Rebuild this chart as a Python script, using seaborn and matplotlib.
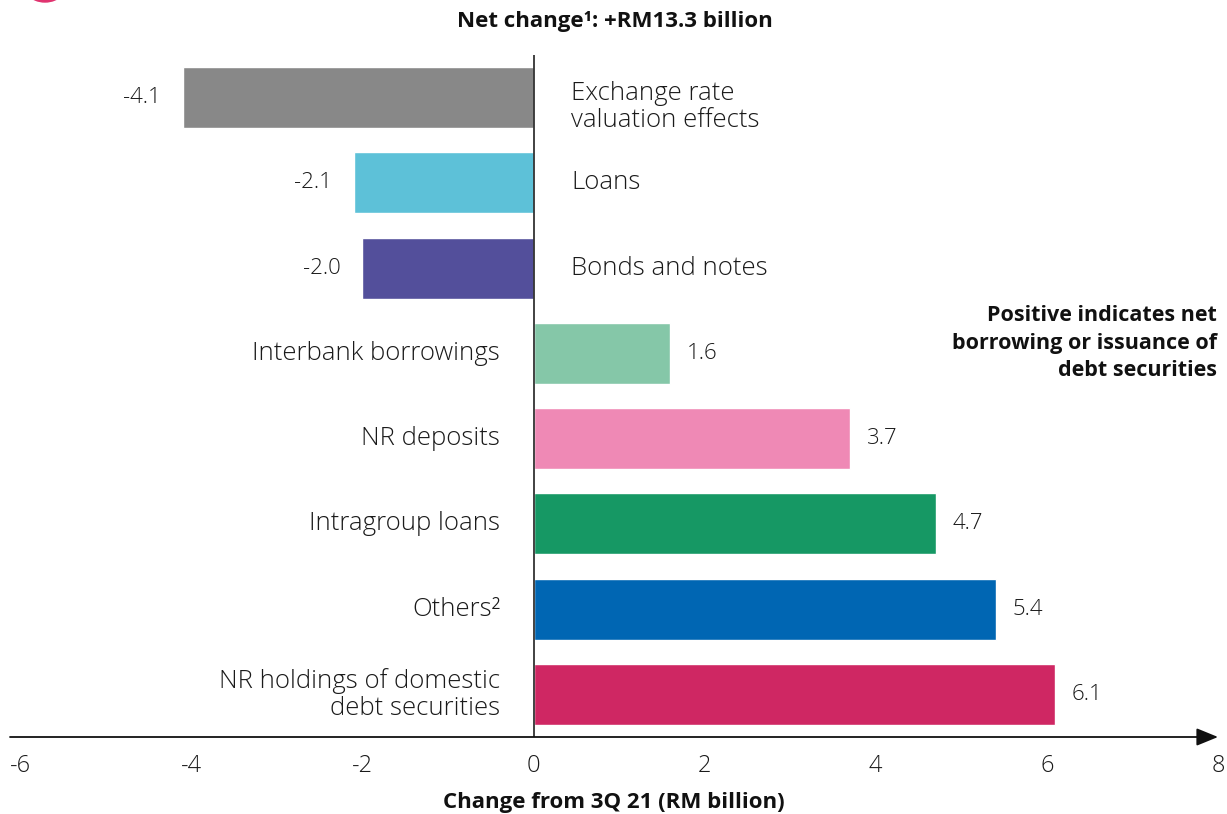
import matplotlib
matplotlib.use("Agg")
import matplotlib.pyplot as plt
from matplotlib.patches import Ellipse
import seaborn as sns
import pandas as pd

categories = [
    "Exchange rate\nvaluation effects",
    "Loans",
    "Bonds and notes",
    "Interbank borrowings",
    "NR deposits",
    "Intragroup loans",
    "Others\u00b2",
    "NR holdings of domestic\ndebt securities",
]
values = [-4.1, -2.1, -2.0, 1.6, 3.7, 4.7, 5.4, 6.1]
colors = ["#888888", "#5DC1D8", "#534F9B", "#85C7A8",
          "#EF89B5", "#169864", "#0066B3", "#CF2763"]
x_ticks = [-6, -4, -2, 0, 2, 4, 6, 8]

title = "Net change\u00b9: +RM13.3 billion"
x_label = "Change from 3Q 21 (RM billion)"
note = "Positive indicates net\nborrowing or issuance of\ndebt securities"

sns.set_theme(style="white")
plt.rcParams["font.family"] = ["Open Sans", "DejaVu Sans"]

df = pd.DataFrame({"category": categories, "value": values})

W, H = 1227, 814
fig = plt.figure(figsize=(W / 100, H / 100), dpi=100)
ax = fig.add_axes([10 / W, (H - 737) / H, 1208 / W, (737 - 55) / H])

sns.barplot(data=df, x="value", y="category", hue="category",
            palette=colors, orient="h", width=0.715, legend=False,
            saturation=1, ax=ax)

ax.set_xlim(-6.12, 8.0)
ax.set_ylim(len(categories) - 0.5, -0.5)
for s in ax.spines.values():
    s.set_visible(False)
ax.set_yticks([])
ax.set_ylabel("")
ax.set_xticks(x_ticks)
ax.set_xticklabels([str(t) for t in x_ticks], fontsize=17,
                   fontweight="light", color="#1a1a1a")
ax.tick_params(axis="x", length=0, pad=12)
ax.set_xlabel(x_label, fontsize=16, fontweight="bold", color="#111111",
              labelpad=10)

TXT = dict(fontweight="light", color="#1a1a1a")

# zero line
ax.axvline(0, color="#333333", lw=1.3, zorder=3)
# x axis with arrow head
ax.annotate("", xy=(1.0, 0), xytext=(0, 0), xycoords="axes fraction",
            arrowprops=dict(arrowstyle="-|>,head_length=1.1,head_width=0.45",
                            color="#111111", lw=1.3, shrinkA=0, shrinkB=0))

for i, (cat, v) in enumerate(zip(categories, values)):
    if v < 0:
        ax.annotate(f"{v:.1f}", (v, i), xytext=(-16, 0),
                    textcoords="offset points", ha="right", va="center",
                    fontsize=16, **TXT)
        # the top label sits a little lower than its bar
        dy = -7 if i == 0 else 0
        ax.annotate(cat, (0, i), xytext=(27, dy), textcoords="offset points",
                    ha="left", va="center", fontsize=18.5, linespacing=1.1,
                    **TXT)
    else:
        ax.annotate(f"{v:.1f}", (v, i), xytext=(12, 0),
                    textcoords="offset points", ha="left", va="center",
                    fontsize=16, **TXT)
        ax.annotate(cat, (0, i), xytext=(-24, 0), textcoords="offset points",
                    ha="right", va="center", fontsize=18.5, linespacing=1.1,
                    multialignment="right", **TXT)

fig.text(615 / W, 1 - 22 / H, title, ha="center", va="center",
         fontsize=16, fontweight="bold", color="#111111")
fig.text(1217 / W, 1 - 343 / H, note, ha="right", va="center",
         fontsize=15.5, fontweight="bold", color="#111111",
         multialignment="right", linespacing=1.4)

# corner of the logo mark
fig.patches.append(Ellipse((45 / W, 1 + 24 / H), 52 / W, 52 / H,
                           transform=fig.transFigure, color="#E0336F",
                           figure=fig))

fig.savefig("out.png", dpi=100)
